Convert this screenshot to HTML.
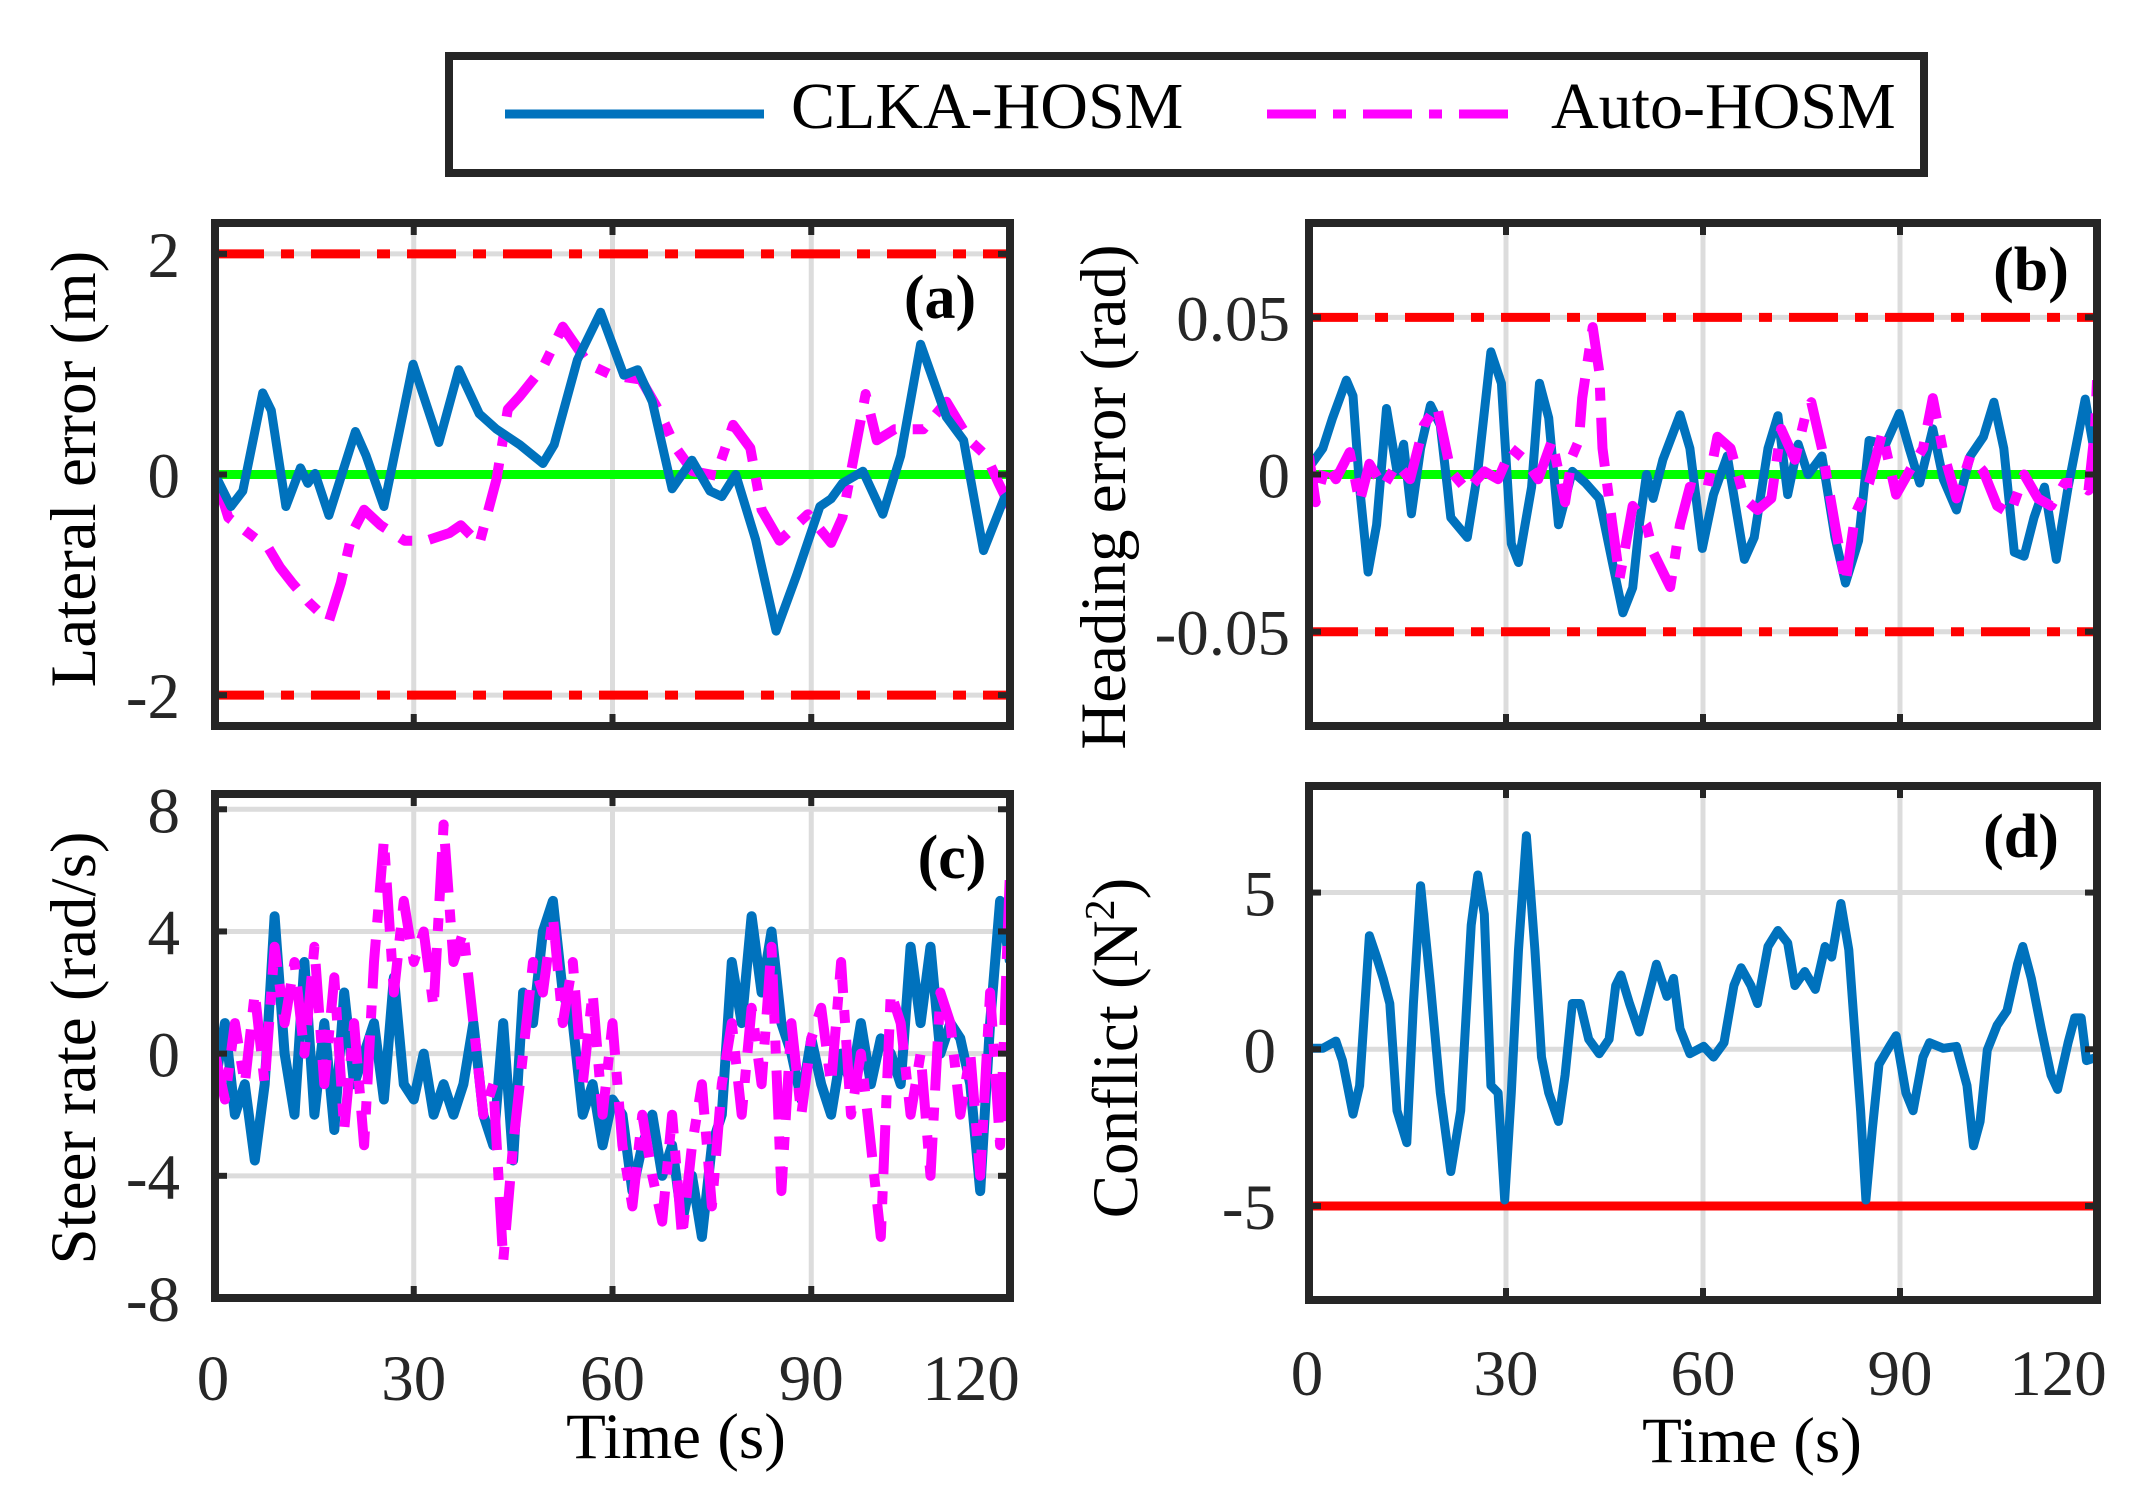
<!DOCTYPE html>
<html><head><meta charset="utf-8">
<style>
html,body{margin:0;padding:0;background:#fff;}
svg{display:block;font-family:"Liberation Serif","Times New Roman",serif;}
</style></head>
<body>
<svg id="fig" width="2152" height="1493" viewBox="0 0 2152 1493" xmlns="http://www.w3.org/2000/svg">
<rect x="0" y="0" width="2152" height="1493" fill="#fff"/>
<g>
<rect x="449" y="56" width="1475" height="117" fill="#fff" stroke="#262626" stroke-width="8"/>
<line x1="505" y1="114" x2="764" y2="114" stroke="#0072BD" stroke-width="9"/>
<text x="791" y="128" font-size="66">CLKA-HOSM</text>
<line x1="1267" y1="114" x2="1517" y2="114" stroke="#FF00FF" stroke-width="9" stroke-dasharray="49,17,13,17"/>
<text x="1551" y="128" font-size="66">Auto-HOSM</text>
</g>
</svg>
<script>
// ---- Panel (a) Lateral error ----
const aT_clka=[0,2.4,4.2,7.2,8.5,10.7,12.9,14,15.1,17.2,21.2,22.8,25.5,29.9,33.8,36.8,39.9,42.5,46,49.5,51.2,54.7,58.2,61.7,63.8,66,69,72,74.7,76.5,78.6,81.6,84.7,87.8,91.3,93,94.7,97.8,100.8,103.5,106.5,110.4,113,116,119.1,120];
const aV_clka=[0,-0.29,-0.15,0.74,0.58,-0.29,0.06,-0.08,0.01,-0.37,0.39,0.17,-0.29,1.0,0.29,0.95,0.55,0.41,0.27,0.1,0.27,1.04,1.47,0.9,0.95,0.66,-0.13,0.13,-0.15,-0.2,0,-0.59,-1.42,-0.91,-0.29,-0.22,-0.08,0.03,-0.36,0.17,1.18,0.52,0.31,-0.69,-0.22,-0.18];
const aT_auto=[0,2,4.6,8.1,9.8,11.6,14.2,17.2,19,20.7,22.5,25,28.6,31.9,35.4,37.1,39.9,42.5,44.2,46,49.5,52.5,56.4,59.9,64.3,66.9,69.6,72.1,75.6,78.2,80.8,82.5,85.2,89.5,93,94.7,98.2,99.9,102.6,106.9,110.4,113.9,116.4,118.3,120];
const aV_auto=[0,-0.39,-0.51,-0.67,-0.84,-0.98,-1.16,-1.33,-0.98,-0.53,-0.32,-0.46,-0.6,-0.6,-0.53,-0.46,-0.63,-0.04,0.59,0.71,0.97,1.34,1.0,0.9,0.86,0.59,0.24,0.03,-0.01,0.45,0.24,-0.32,-0.6,-0.36,-0.62,-0.39,0.73,0.31,0.41,0.41,0.66,0.31,0.17,-0.08,-0.29];
// ---- Panel (b) Heading error ----
const bT_clka=[0,2.1,3.6,5.7,6.7,7.7,9,10.3,11.8,13.4,14.4,15.6,17,18.5,20,21.6,24.1,25.7,27.7,29.3,30.8,31.9,33.9,35.1,36.5,38,40.1,42.1,44.2,46.2,47.8,49.3,50.3,51.4,52.4,53.9,56.5,58,59.9,61.6,63.7,66.3,67.8,69.9,71.4,72.9,74.5,76,78.1,80.1,81.7,83.7,85.3,87.8,89.9,91.4,93,95,96.6,98.6,100.7,102.7,104.3,105.8,107.4,108.9,110.4,112,113.8,115.6,118.2,120];
const bV_clka=[0.0022,0.0083,0.018,0.030,0.025,-0.004,-0.031,-0.016,0.021,0.001,0.0096,-0.0125,0.0083,0.022,0.0157,-0.0137,-0.020,0.001,0.039,0.029,-0.022,-0.028,-0.004,0.029,0.018,-0.016,0.001,-0.0027,-0.0076,-0.028,-0.044,-0.036,-0.016,0,-0.0076,0.0047,0.019,0.0083,-0.0235,-0.0064,0.0059,-0.027,-0.020,0.0083,0.0187,-0.0064,0.0096,0,0.0059,-0.020,-0.0345,-0.021,0.0108,0.0096,0.0194,0.0083,-0.0027,0.0145,-0.0015,-0.0113,0.0059,0.012,0.023,0.0083,-0.0247,-0.026,-0.0137,-0.004,-0.027,-0.004,0.024,0.0022];
const bT_auto=[0,1,2.6,4.1,6.2,7.7,9.2,11.3,13.4,15.4,17.5,19.5,21.6,24.1,26.7,28.8,30.8,32.9,34.9,37,39,40.1,41.1,41.6,43.2,44.2,44.7,46.2,47.3,49.3,51.4,52.4,55,56.5,58,60.6,62.2,64.2,66.3,68.3,70.4,71.9,74,75.5,76.5,78.1,80.1,81.7,83.2,85.3,87.3,89.4,91.4,93.5,95,96.6,98.6,100.7,102.7,104.8,106.8,108.9,111,113,115.1,117.1,118.7,119.7,120];
const bV_auto=[0.0059,-0.0088,0.0034,-0.0015,0.0071,-0.0088,0.0034,-0.0039,0.0034,-0.0015,0.0157,0.0218,0.001,-0.0051,0.001,-0.0015,0.0083,0.0047,-0.0015,0.0108,-0.0088,0.0059,0.0108,0.0243,0.0469,0.0328,0.0083,-0.016,-0.033,-0.010,-0.016,-0.0247,-0.0358,-0.016,-0.0039,-0.0051,0.012,0.0083,-0.0076,-0.0113,-0.0076,0.0145,0.0047,0.018,0.023,0.0083,-0.016,-0.0345,-0.0125,-0.0027,0.0132,-0.0064,0.001,0.0083,0.0243,0.0071,-0.0076,0.0059,0.001,-0.010,-0.0125,0,-0.0076,-0.010,-0.0027,-0.0027,-0.0051,0.0145,0.030];
// ---- Panel (c) Steer rate ----
const cT=[0,1.5,3,4.5,6,7.5,9,10.5,12,13.5,15,16.5,18,19.5,21,22.5,24,25.5,27,28.5,30,31.5,33,34.5,36,37.5,39,40.5,42,43.5,45,46.5,48,49.5,51,52.5,54,55.5,57,58.5,60,61.5,63,64.5,66,67.5,69,70.5,72,73.5,75,76.5,78,79.5,81,82.5,84,85.5,87,88.5,90,91.5,93,94.5,96,97.5,99,100.5,102,103.5,105,106.5,108,109.5,111,112.5,114,115.5,117,118.5,120];
const cV_clka=[-1,1,-2,-1,-3.5,-1,4.5,0,-2,3,-2,1,-2.5,2,-1,0,1,-1.5,2.5,-1,-1.5,0,-2,-1,-2,-1,1,-2,-3,1,-3.5,2,1,4,5,2,1,-2,-1,-3,-1.5,-2,-4.5,-3,-2,-4,-3,-5.5,-4,-6,-3,-2,3,1,4.5,2,4,1,0,-1.5,0.5,-1,-2,0,-1,1,-1,0.5,0,-1,3.5,1,3.5,0,1,0.5,-1,-4.5,1,5,3];
const cV_auto=[0,-1.5,1,-1,2,-1,3.5,1,3,0,3.5,-1,2.5,-2.5,1,-3,3,7,2,5,3,4,1.5,7.5,3,4,1,-2,-1,-6.8,-3,0,3,2,4.5,1,3,-1,2,-2,1,-3,-5,-2,-4,-5.5,-2,-6,-3,-1,-5,-1,1,-2,1.5,-1,3.5,-4.5,1,-2,0.5,1.5,-1,3,-2,0,-3,-6,2,1,-2,0,-4,2,1,-2,0,-4,2,-3,6];
// ---- Panel (d) Conflict ----
const dT=[0,2.1,4.1,5.1,6.7,7.7,9.2,10.3,11.3,12.3,13.4,14.9,15.9,17,18.5,20,21.6,23.1,24.7,25.7,26.7,27.7,28.8,29.8,30.8,31.9,33.1,34.4,35.4,36.5,38,39,40.1,41.3,42.6,44.2,45.7,46.7,47.5,48.8,50.3,51.4,52.9,54.5,55.5,56.5,58,60.1,61.6,63.2,64.7,65.8,67.3,68.3,69.9,71.4,72.9,74,75.5,77.1,78.6,79.6,81,82.2,83,84,84.8,85.8,86.8,88.4,89.4,90.9,92,93.5,94.5,96.6,98.6,100.2,101.2,102.2,103.3,104.8,106.3,107.9,108.7,110,111.5,113,114,115.6,116.6,117.6,118.4,120];
const dV=[0.03,0.03,0.26,-0.36,-2.07,-1.16,3.62,2.94,2.26,1.46,-1.96,-2.98,1.46,5.22,2.03,-1.39,-3.9,-1.96,3.96,5.56,4.31,-1.16,-1.39,-4.81,-1.39,3.17,6.81,3.17,-0.25,-1.39,-2.3,-0.82,1.46,1.46,0.32,-0.14,0.32,2.03,2.37,1.46,0.55,1.46,2.71,1.69,2.26,0.66,-0.14,0.09,-0.25,0.21,2.03,2.6,2.03,1.46,3.28,3.79,3.39,2.03,2.48,1.91,3.28,2.94,4.65,3.17,0.89,-1.96,-4.81,-2.53,-0.48,0.09,0.43,-1.39,-1.96,-0.25,0.21,0.03,0.09,-1.16,-3.08,-2.3,-0.02,0.77,1.23,2.71,3.28,2.26,0.66,-0.82,-1.28,0.21,1.0,1.0,-0.36,-0.25];
const xTicks=[0,30,60,90,120];
const aTicks=[-2,0,2], bTicks=[-0.05,0,0.05], cTicks=[-8,-4,0,4,8], dTicks=[-5,0,5];
const aTickLabels=["-2","0","2"], bTickLabels=["-0.05","0","0.05"], cTickLabels=["-8","-4","0","4","8"], dTickLabels=["-5","0","5"];

const NS="http://www.w3.org/2000/svg";
const svg=document.getElementById('fig');
function mk(tag,attrs,parent){const e=document.createElementNS(NS,tag);for(const k in attrs)e.setAttribute(k,attrs[k]);(parent||svg).appendChild(e);return e;}

function panel(cfg){
  const g=mk('g',{});
  
  
  const sx=t=>cfg.L+(t-0)/(120-0)*(cfg.R-cfg.L);
  const sy=v=>cfg.B-(v-cfg.ymin)/(cfg.ymax-cfg.ymin)*(cfg.B-cfg.T);
  const clipId='clip-'+cfg.name;
  const cp=mk('clipPath',{id:clipId},g);
  mk('rect',{x:cfg.L,y:cfg.T,width:cfg.R-cfg.L,height:cfg.B-cfg.T},cp);
  xTicks.forEach(t=>{ if(t>0&&t<120){const l=mk('line',{x1:sx(t),x2:sx(t),y1:cfg.T,y2:cfg.B,stroke:'#dcdcdc','stroke-width':5},g);
    
    }});
  cfg.ticks.forEach(v=>{const l=mk('line',{x1:cfg.L,x2:cfg.R,y1:sy(v),y2:sy(v),stroke:'#dcdcdc','stroke-width':5},g);
    
    });
  const plot=mk('g',{'clip-path':'url(#'+clipId+')'},g);
  cfg.refs.forEach(r=>{const l=mk('line',{x1:cfg.L,x2:cfg.R,y1:sy(r.v),y2:sy(r.v),stroke:r.c,'stroke-width':9},plot);
    if(r.dash)l.setAttribute('stroke-dasharray','49,17,13,17');
    
    });
  cfg.series.forEach(s=>{
    const pts=s.t.map((t,i)=>sx(t).toFixed(1)+','+sy(s.v[i]).toFixed(1)).join(' ');
    const p=mk('polyline',{points:pts,fill:'none',stroke:s.c,'stroke-width':s.w||9,'stroke-linejoin':'round'},plot);
    if(s.dash)p.setAttribute('stroke-dasharray','49,17,13,17');
    
    
  });
  const box=mk('rect',{x:cfg.L,y:cfg.T,width:cfg.R-cfg.L,height:cfg.B-cfg.T,fill:'none',stroke:'#262626','stroke-width':8},g);
  
  
  xTicks.forEach(t=>{mk('line',{x1:sx(t),x2:sx(t),y1:cfg.T,y2:cfg.T+12,stroke:'#262626','stroke-width':6},g);mk('line',{x1:sx(t),x2:sx(t),y1:cfg.B,y2:cfg.B-12,stroke:'#262626','stroke-width':6},g);});
  cfg.ticks.forEach((v,i)=>{
    mk('line',{x1:cfg.L,x2:cfg.L+12,y1:sy(v),y2:sy(v),stroke:'#262626','stroke-width':6},g);
    mk('line',{x1:cfg.R,x2:cfg.R-12,y1:sy(v),y2:sy(v),stroke:'#262626','stroke-width':6},g);
    const tx=mk('text',{x:cfg.tickX,y:sy(v)+23,'font-size':65,'text-anchor':'end',fill:'#262626'},g);
    tx.textContent=cfg.tickLabels[i];
    
    
  });
  if(cfg.xLabels){
    xTicks.forEach(t=>{
      const tx=mk('text',{x:sx(t)-(t===120?39:0)-(t===0?2:0),y:cfg.xLabY,'font-size':65,'text-anchor':'middle',fill:'#262626'},g);
      tx.textContent=String(t);
      
      
    });
    const xt=mk('text',{x:cfg.xTitleX,y:cfg.xTitleY,'font-size':65,'text-anchor':'middle',fill:'#000'},g);
    xt.textContent='Time (s)';
    
    
  }
  const yt=mk('text',{x:0,y:0,'font-size':65,'text-anchor':'middle',fill:'#000',transform:'translate('+cfg.yTitleX+','+cfg.yTitleY+') rotate(-90)'},g);
  yt.innerHTML=cfg.yTitle;
  
  
  const pl=mk('text',{x:cfg.tagX,y:cfg.tagY,'font-size':62,'font-weight':'bold','text-anchor':'middle',fill:'#000'},g);
  pl.textContent=cfg.tag;
  
  
}

panel({name:'panel-a-lateral-error',L:215,R:1010,T:223,B:726,ymin:-2.28,ymax:2.28,ticks:aTicks,tickLabels:aTickLabels,tickX:180,
  refs:[{v:0,c:'#00FF00',name:'zero-reference'},{v:2,c:'#FF0000',dash:true,name:'upper-bound'},{v:-2,c:'#FF0000',dash:true,name:'lower-bound'}],
  series:[{t:aT_auto,v:aV_auto,c:'#FF00FF',dash:true,w:10,name:'auto-hosm-line'},{t:aT_clka,v:aV_clka,c:'#0072BD',name:'clka-hosm-line'}],
  yTitle:'Lateral error (m)',yTitleX:95,yTitleY:469,tag:'(a)',tagX:940,tagY:318});
panel({name:'panel-b-heading-error',L:1309,R:2097,T:223,B:726,ymin:-0.08,ymax:0.08,ticks:bTicks,tickLabels:bTickLabels,tickX:1290,
  refs:[{v:0,c:'#00FF00',name:'zero-reference'},{v:0.05,c:'#FF0000',dash:true,name:'upper-bound'},{v:-0.05,c:'#FF0000',dash:true,name:'lower-bound'}],
  series:[{t:bT_clka,v:bV_clka,c:'#0072BD',name:'clka-hosm-line'},{t:bT_auto,v:bV_auto,c:'#FF00FF',dash:true,w:10,name:'auto-hosm-line'}],
  yTitle:'Heading error (rad)',yTitleX:1125,yTitleY:497,tag:'(b)',tagX:2031,tagY:290});
panel({name:'panel-c-steer-rate',L:215,R:1010,T:794,B:1298,ymin:-8,ymax:8.5,ticks:cTicks,tickLabels:cTickLabels,tickX:180,
  refs:[],
  series:[{t:cT,v:cV_clka,c:'#0072BD',w:10,name:'clka-hosm-line'},{t:cT,v:cV_auto,c:'#FF00FF',dash:true,w:10,name:'auto-hosm-line'}],
  xLabels:true,xLabY:1400,xTitleX:676,xTitleY:1458,
  yTitle:'Steer rate (rad/s)',yTitleX:95,yTitleY:1048,tag:'(c)',tagX:952,tagY:878});
panel({name:'panel-d-conflict',L:1309,R:2097,T:786,B:1300,ymin:-8,ymax:8.4,ticks:dTicks,tickLabels:dTickLabels,tickX:1276,
  refs:[{v:-5,c:'#FF0000',name:'conflict-limit'}],
  series:[{t:dT,v:dV,c:'#0072BD',name:'clka-hosm-line'}],
  xLabels:true,xLabY:1395,xTitleX:1752,xTitleY:1462,
  yTitle:'Conflict (N<tspan baseline-shift="super" font-size="42">2</tspan>)',yTitleX:1137,yTitleY:1048,tag:'(d)',tagX:2021,tagY:857});
</script>
</body></html>
